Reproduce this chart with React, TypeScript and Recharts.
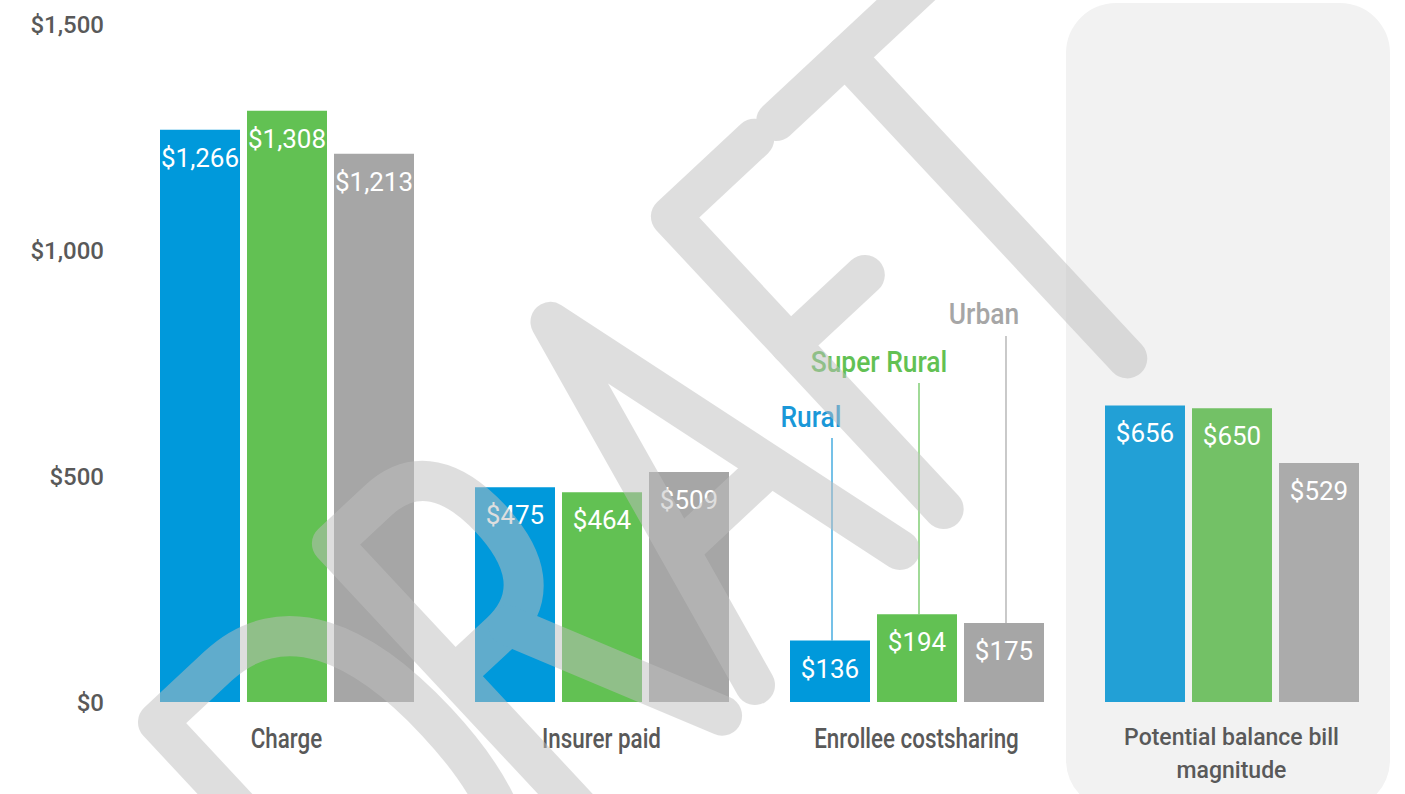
import React from 'react';
import { BarChart, Bar, XAxis, YAxis, LabelList, Cell } from 'recharts';

// ---------- data ----------
const categories = ['Charge', 'Insurer paid', 'Enrollee costsharing', 'Potential balance bill magnitude'];
const ruralValues = [1266, 475, 136, 656];
const superRuralValues = [1308, 464, 194, 650];
const urbanValues = [1213, 509, 175, 529];
const yTicks = [0, 500, 1000, 1500];
const seriesNames = ['Rural', 'Super Rural', 'Urban'];
const legendCategoryIndex = 2; // legend labels sit above the "Enrollee costsharing" bars
const highlightedCategoryIndex = 3;

const data = categories.map((c, i) => ({
  category: c,
  rural: ruralValues[i],
  superRural: superRuralValues[i],
  urban: urbanValues[i],
}));

// ---------- styles ----------
const FONT = 'Roboto, "Noto Sans", sans-serif';
const SERIES = [
  { key: 'rural', name: seriesNames[0], color: '#0099db', soft: '#22a0d6', legendColor: '#1a98d8', legendBaseline: 427, legendDx: -19, lineTop: 438 },
  { key: 'superRural', name: seriesNames[1], color: '#62c153', soft: '#73c166', legendColor: '#62c153', legendBaseline: 372, legendDx: -38, lineTop: 383 },
  { key: 'urban', name: seriesNames[2], color: '#a6a6a6', soft: '#ababab', legendColor: '#a6a6a6', legendBaseline: 324, legendDx: -20, lineTop: 336 },
];

const fmtMoney = (v: number) => '$' + v.toLocaleString('en-US');

const wrapWords = (text: string, maxChars: number) => {
  const words = text.split(' ');
  const lines: string[] = [];
  let cur = '';
  words.forEach((w) => {
    const next = cur ? cur + ' ' + w : w;
    if (next.length > maxChars && cur) {
      lines.push(cur);
      cur = w;
    } else cur = next;
  });
  if (cur) lines.push(cur);
  return lines;
};

const CategoryTick = (props: any) => {
  const { x, y, payload } = props;
  const lines = wrapWords(String(payload.value), 22);
  const multi = lines.length > 1;
  const fontSize = multi ? 23 : 28;
  const sx = multi ? 1 : 0.8;
  const first = multi ? 43 : 46;
  const lh = 33;
  return (
    <g transform={`translate(${x},${y}) scale(${sx},1)`}>
      <text textAnchor="middle" fill="#595959" fontFamily={FONT} fontSize={fontSize} fontWeight={500}>
        {lines.map((l, i) => (
          <tspan key={i} x={0} y={first + i * lh}>
            {l}
          </tspan>
        ))}
      </text>
    </g>
  );
};

const ValueTick = (props: any) => {
  const { x, y, payload } = props;
  return (
    <text x={x} y={y} dy="0.36em" textAnchor="end" fill="#595959" fontFamily={FONT} fontSize={24} fontWeight={500}>
      {fmtMoney(payload.value)}
    </text>
  );
};

const makeBarLabel = (s: (typeof SERIES)[number]) => (props: any) => {
  const vb = props.viewBox || {};
  const x = props.x ?? vb.x;
  const y = props.y ?? vb.y;
  const width = props.width ?? vb.width;
  const { value, index } = props;
  if (x == null || y == null) return null;
  const cx = x + width / 2;
  return (
    <g>
      <text x={cx} y={y + 37} textAnchor="middle" fill="#ffffff" fontFamily={FONT} fontSize={26}>
        {fmtMoney(Number(value))}
      </text>
      {index === legendCategoryIndex && (
        <g>
          <line x1={cx + 2} x2={cx + 2} y1={s.lineTop} y2={y} stroke={s.legendColor} strokeWidth={1.2} />
          <g transform={`translate(${cx + s.legendDx},${s.legendBaseline}) scale(0.88,1)`}>
            <text x={0} y={0} textAnchor="middle" fill={s.legendColor} fontFamily={FONT} fontSize={30} fontWeight={500}>
              {s.name}
            </text>
          </g>
        </g>
      )}
    </g>
  );
};

// ---------- watermark (decoration) ----------
const Watermark = () => (
  <svg width={1405} height={794} style={{ position: 'absolute', left: 0, top: 0, pointerEvents: 'none' }}>
    <g opacity={0.5}>
      <g
        transform="translate(755,685) rotate(-43)"
        fill="none"
        stroke="#bfbfbf"
        strokeWidth={40}
        strokeLinecap="round"
        strokeLinejoin="round"
      >
        {/* D */}
        <path d="M -462 0 L -462 -380 L -380 -380 C -292 -380 -258 -300 -258 -190 C -258 -80 -292 0 -380 0 Z" />
        {/* R */}
        <path d="M -213 0 L -213 -392 L -150 -392 C -100 -392 -80 -356 -80 -302 C -80 -248 -100 -212 -150 -212 L -213 -212" />
        <path d="M -140 -212 L -45 0" />
        {/* A */}
        <path d="M 0 0 L 98 -405 L 198 0" />
        <path d="M 40 -150 L 160 -150" />
        {/* F */}
        <path d="M 372 -400 L 258 -400 L 258 0" />
        <path d="M 258 -225 L 360 -225" />
        {/* T */}
        <path d="M 400 -398 L 600 -398" />
        <path d="M 495 -398 L 495 15" />
      </g>
    </g>
  </svg>
);

const HighlightBackground = () => (
  <svg width={1405} height={794} style={{ position: 'absolute', left: 0, top: 0 }}>
    <rect x={1066} y={3} width={324} height={807} rx={50} ry={50} fill="#f2f2f2" />
  </svg>
);

export default function App() {
  return (
    <div style={{ position: 'absolute', left: 0, top: 0, width: 1405, height: 794, background: '#ffffff', fontFamily: FONT, overflow: 'hidden' }}>
      <HighlightBackground />
      <div style={{ position: 'absolute', left: 0, top: 0 }}>
        <BarChart
          width={1405}
          height={794}
          data={data}
          margin={{ top: 24, right: 16, bottom: 32, left: 0 }}
          barCategoryGap={31}
          barGap={7}
        >
          <XAxis
            dataKey="category"
            height={60}
            tickSize={0}
            tickMargin={0}
            axisLine={false}
            tickLine={false}
            interval={0}
            tick={<CategoryTick />}
          />
          <YAxis
            width={129}
            domain={[0, 1500]}
            ticks={yTicks}
            tickSize={0}
            tickMargin={25}
            axisLine={false}
            tickLine={false}
            tick={<ValueTick />}
          />
          {SERIES.map((s) => (
            <Bar key={s.key} dataKey={s.key} name={s.name} fill={s.color} isAnimationActive={false}>
              {data.map((_, i) => (
                <Cell key={i} fill={i === highlightedCategoryIndex ? s.soft : s.color} />
              ))}
              <LabelList dataKey={s.key} content={makeBarLabel(s)} />
            </Bar>
          ))}
        </BarChart>
      </div>
      <Watermark />
    </div>
  );
}
